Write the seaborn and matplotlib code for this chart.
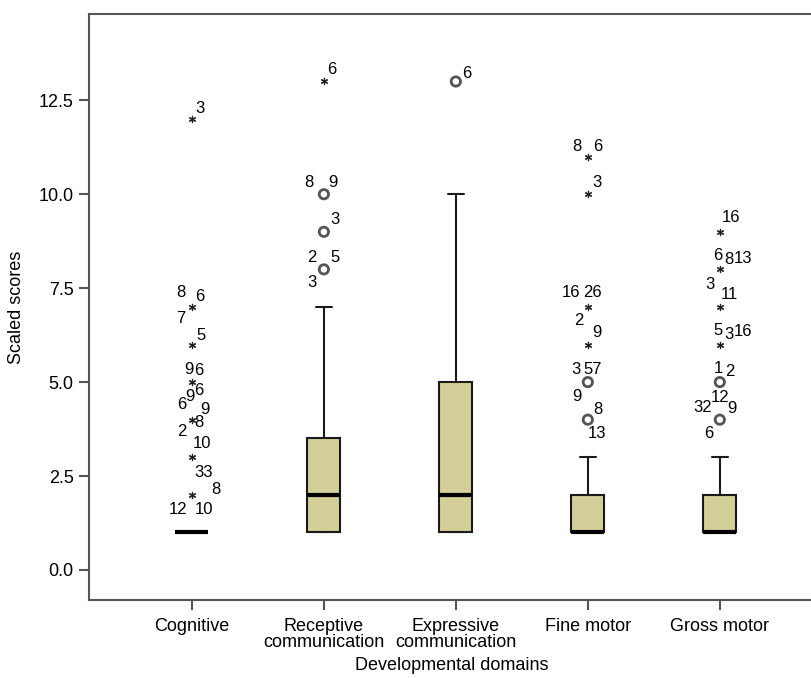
import numpy as np
import pandas as pd
import matplotlib
matplotlib.use("Agg")
import matplotlib.pyplot as plt
import seaborn as sns

sns.set_style("white")
plt.rcParams["font.family"] = ["Liberation Sans", "DejaVu Sans"]
plt.rcParams["text.color"] = "black"
plt.rcParams["axes.labelcolor"] = "black"
plt.rcParams["xtick.labelcolor"] = "black"
plt.rcParams["ytick.labelcolor"] = "black"

domains = ["Cognitive", "Receptive\ncommunication", "Expressive\ncommunication",
           "Fine motor", "Gross motor"]

# scaled score values and how many children had each one
cog_values = [1, 2, 3, 4, 5, 6, 7, 12]
cog_counts = [61, 3, 2, 6, 2, 1, 3, 1]
rec_values = [1, 2, 3, 4, 5, 6, 7, 8, 9, 10, 13]
rec_counts = [25, 20, 14, 5, 4, 2, 2, 3, 1, 2, 1]
exp_values = [1, 2, 3, 4, 5, 6, 7, 8, 9, 10, 13]
exp_counts = [25, 18, 8, 6, 6, 4, 4, 3, 2, 2, 1]
fine_values = [1, 2, 3, 4, 5, 6, 7, 10, 11]
fine_counts = [45, 17, 5, 2, 3, 2, 2, 1, 2]
gross_values = [1, 2, 3, 4, 5, 6, 7, 8, 9]
gross_counts = [45, 16, 3, 4, 2, 3, 1, 4, 1]

# case labels next to the outliers / extremes
cog_labels = {12: ["3"], 7: ["8", "6", "7"], 6: ["5"], 5: ["9", "6"],
              4: ["6", "9", "6", "9", "8", "2"], 3: ["10", "33"], 2: ["8", "12", "10"]}
rec_labels = {13: ["6"], 10: ["8", "9"], 9: ["3"], 8: ["2", "5", "3"]}
exp_labels = {13: ["6"]}
fine_labels = {11: ["8", "6"], 10: ["3"], 7: ["16", "26"], 6: ["2", "9"],
               5: ["3", "57", "9"], 4: ["8", "13"]}
gross_labels = {9: ["16"], 8: ["6", "8", "13", "3"], 7: ["11"], 6: ["5", "3", "16"],
                5: ["1", "2"], 4: ["32", "12", "9", "6"]}

# where each label sits around its marker (pixels, right / up)
cog_pos = {12: [(8, 11)], 7: [(-11, 14), (8, 10), (-11, -12)], 6: [(9, 9)],
           5: [(-3, 13), (7, 12)],
           4: [(-10, 15), (-2, 23), (7, 29), (13, 10), (7, -3), (-10, -12)],
           3: [(10, 14), (12, -15)], 2: [(24, 5), (-14, -15), (12, -15)]}
rec_pos = {13: [(8, 12)], 10: [(-15, 12), (9, 12)], 9: [(11, 12)],
           8: [(-12, 12), (11, 12), (-12, -13)]}
exp_pos = {13: [(11, 8)]}
fine_pos = {11: [(-11, 10), (10, 10)], 10: [(9, 12)], 7: [(-17, 14), (5, 14)],
            6: [(-9, 24), (9, 12)], 5: [(-12, 13), (5, 13), (-11, -14)],
            4: [(10, 10), (9, -14)]}
gross_pos = {9: [(11, 14)], 8: [(-2, 14), (9, 10), (23, 11), (-10, -15)], 7: [(10, 12)],
             6: [(-2, 14), (9, 10), (23, 13)], 5: [(-1, 14), (10, 11)],
             4: [(-17, 12), (0, 22), (12, 11), (-11, -14)]}

values = [cog_values, rec_values, exp_values, fine_values, gross_values]
counts = [cog_counts, rec_counts, exp_counts, fine_counts, gross_counts]
labels = [cog_labels, rec_labels, exp_labels, fine_labels, gross_labels]
positions = [cog_pos, rec_pos, exp_pos, fine_pos, gross_pos]

rows = []
for d, v, c in zip(domains, values, counts):
    for s in np.repeat(v, c):
        rows.append({"domain": d, "score": s})
df = pd.DataFrame(rows)

box_color = "#D3CF98"
frame_color = "#555555"

fig = plt.figure(figsize=(8.11, 6.78), dpi=100)
ax = fig.add_axes([0.1097, 0.115, 0.895, 0.864])

sns.boxplot(data=df, x="domain", y="score", order=domains, width=0.25,
            color=box_color, saturation=1, linecolor="#1a1a1a", linewidth=1.5,
            showfliers=False, whis=1.5,
            medianprops={"linewidth": 3, "color": "black"}, ax=ax)

# SPSS style: circles for outliers, asterisks for extreme values
for i, d in enumerate(domains):
    s = df.loc[df["domain"] == d, "score"].to_numpy()
    q1, q3 = np.percentile(s, [25, 75])
    iqr = q3 - q1
    for val in np.unique(s):
        if val <= q3 + 1.5 * iqr:
            continue
        if val > q3 + 3 * iqr:
            ax.scatter([i], [val], marker=(6, 2, 0), s=20, color="#222222",
                       linewidths=0.9, zorder=4)
        else:
            ax.scatter([i], [val], marker="o", s=45, facecolors="none",
                       edgecolors="#555555", linewidths=2, zorder=4)
        for lab, (dx, dy) in zip(labels[i].get(int(val), []), positions[i].get(int(val), [])):
            ax.annotate(lab, (i, val), xytext=(dx * 0.72, dy * 0.72),
                        textcoords="offset points", ha="center", va="center",
                        fontsize=12, color="black")

ax.set_xlim(-0.78, 4.72)
ax.set_ylim(-0.8, 14.79)
yt = [0, 2.5, 5, 7.5, 10, 12.5]
ax.set_yticks(yt)
ax.set_yticklabels([f"{t:.1f}" for t in yt])
ax.set_xticks(range(len(domains)))
ax.set_xticklabels(domains, linespacing=0.95)

ax.tick_params(axis="both", direction="out", length=7, width=1.5, color=frame_color,
               labelsize=13, labelcolor="black", pad=4, left=True, bottom=True)
ax.tick_params(axis="x", pad=6)
for side in ["left", "bottom", "top"]:
    ax.spines[side].set_color(frame_color)
    ax.spines[side].set_linewidth(1.5)
ax.spines["right"].set_visible(False)

ax.set_xlabel("Developmental domains", fontsize=13, labelpad=4, color="black")
ax.set_ylabel("Scaled scores", fontsize=13, labelpad=10, color="black")

fig.savefig("out.png", dpi=100)
